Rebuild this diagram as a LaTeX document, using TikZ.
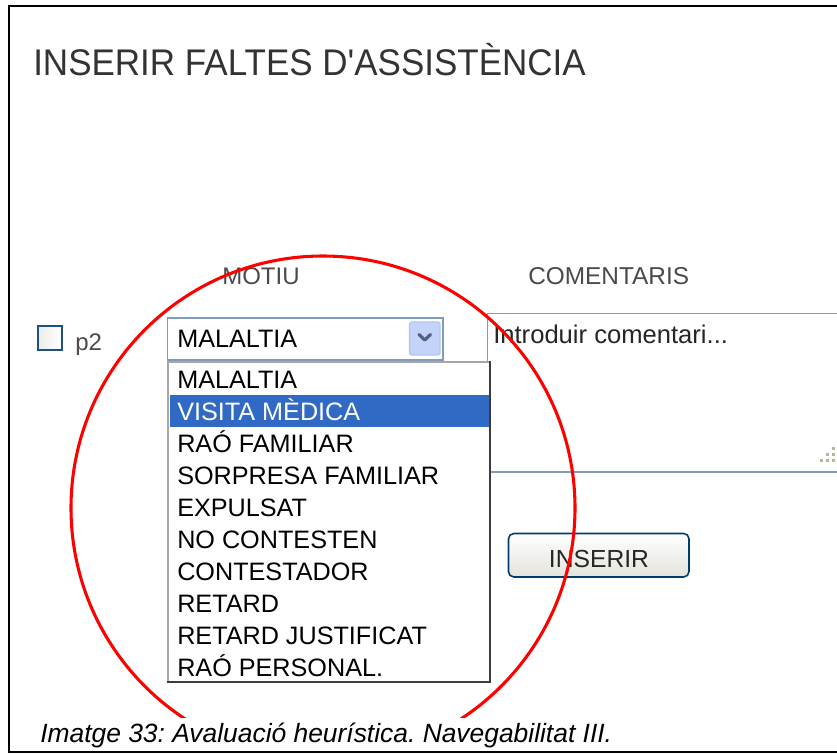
\documentclass[tikz,border=0pt]{standalone}
\usepackage{fontspec}
\setmainfont{Liberation Sans}[Ligatures=TeXOff]
\definecolor{selborder}{HTML}{7F9DB9}
\definecolor{btnblue}{HTML}{003C74}
\definecolor{hilite}{HTML}{316AC5}
\definecolor{chev}{HTML}{4D6185}
\definecolor{chevfill}{HTML}{C3D3FA}
\definecolor{chevborder}{HTML}{B2C6F2}
\definecolor{listgray}{HTML}{A7A6AA}
\definecolor{listdark}{HTML}{3C3C3C}
\definecolor{labelgray}{HTML}{4A4A4A}
\definecolor{titlegray}{HTML}{333333}
\definecolor{grip}{HTML}{B8B49C}
\definecolor{cbborder}{HTML}{1C5180}
\definecolor{btnbottom}{HTML}{E4E3DC}
\frenchspacing
\begin{document}
\begin{tikzpicture}[x=0.75pt,y=-0.75pt,
  txt/.style={inner sep=0pt, anchor=base west},
  item/.style={txt, font=\fontsize{18.9pt}{20pt}\selectfont, text=black},
  label/.style={txt, font=\fontsize{18pt}{20pt}\selectfont, text=labelgray},
  frameline/.style={line width=1.6pt, draw=black},
  fieldbox/.style={draw=selborder, line width=1.2pt, fill=white}]
\useasboundingbox (0,0) rectangle (837,754);
\fill[white] (0,0) rectangle (837,754);
% outer frame
\draw[frameline] (840,6) -- (9,6) -- (9,752) -- (840,752);
% title
\node[txt, font=\fontsize{26.25pt}{30pt}\selectfont, text=titlegray, yscale=1.06, transform shape] (title) at (33,75) {INSERIR FALTES D'ASSISTÈNCIA};
% column labels
\node[label] (motiu) at (222,284) {MOTIU};
\node[label, font=\fontsize{18.3pt}{20pt}\selectfont] (coment) at (528,284) {COMENTARIS};
% checkbox and p2
\shade[left color=btnbottom!80!gray!40, right color=white, draw=cbborder, line width=1.2pt] (38,326) rectangle (62,350);
\node[label] (p2) at (75,350) {p2};
% textarea
\draw[fieldbox] (487.5,313.5) rectangle (850,472);
\node[txt, font=\fontsize{19.2pt}{20pt}\selectfont, text=black!85] (intro) at (493,343) {Introduir comentari...};
\foreach \yy/\xs in {447/{832}, 453/{826,832}, 459/{820,826,832}}{
  \foreach \xx in \xs { \fill[grip] (\xx,\yy) rectangle ++(3,3); }
}
% select box
\draw[fieldbox] (167.5,318) rectangle (443,360);
\draw[chevborder, fill=chevfill, rounded corners=1.5pt, line width=0.8pt] (409.5,322) rectangle (440,355);
\draw[chev, line width=2.4pt, line cap=round, line join=round] (419,334.5) -- (424.8,340) -- (430.5,334.5);
\node[item] (sel) at (177,347) {MALALTIA};
% dropdown list
\fill[white] (167,361) rectangle (491,683);
\fill[hilite] (170,395) rectangle (489,427);
\draw[listgray, line width=1.6pt] (167.8,683) -- (167.8,361.8) -- (491,361.8);
\draw[listdark, line width=1.6pt] (490.2,361) -- (490.2,682.2) -- (167,682.2);
\node[item] (i1) at (177,388) {MALALTIA};
\node[item, text=white] (i2) at (177,420) {VISITA MÈDICA};
\node[item] (i3) at (177,452) {RAÓ FAMILIAR};
\node[item] (i4) at (177,484) {SORPRESA FAMILIAR};
\node[item] (i5) at (177,516) {EXPULSAT};
\node[item] (i6) at (177,548) {NO CONTESTEN};
\node[item] (i7) at (177,580) {CONTESTADOR};
\node[item] (i8) at (177,612) {RETARD};
\node[item] (i9) at (177,644) {RETARD JUSTIFICAT};
\node[item] (i10) at (177,676) {RAÓ PERSONAL.};
% button
\shade[top color=white, bottom color=btnbottom, draw=btnblue, line width=1.2pt, rounded corners=4pt] (508.5,533.5) rectangle (689,577);
\node[txt, anchor=base, font=\fontsize{18.5pt}{20pt}\selectfont, text=black!85] (btn) at (599,567) {INSERIR};
% red circle
\begin{scope}
\clip (0,0) rectangle (837,717);
\draw[red, line width=2.3pt] (323,508) circle[radius=252];
\end{scope}
% caption
\node[txt, font=\fontsize{19.8pt}{22pt}\selectfont\itshape, text=black] (caption) at (40,742) {Imatge 33: Avaluació heurística. Navegabilitat III.};
\end{tikzpicture}
\end{document}
